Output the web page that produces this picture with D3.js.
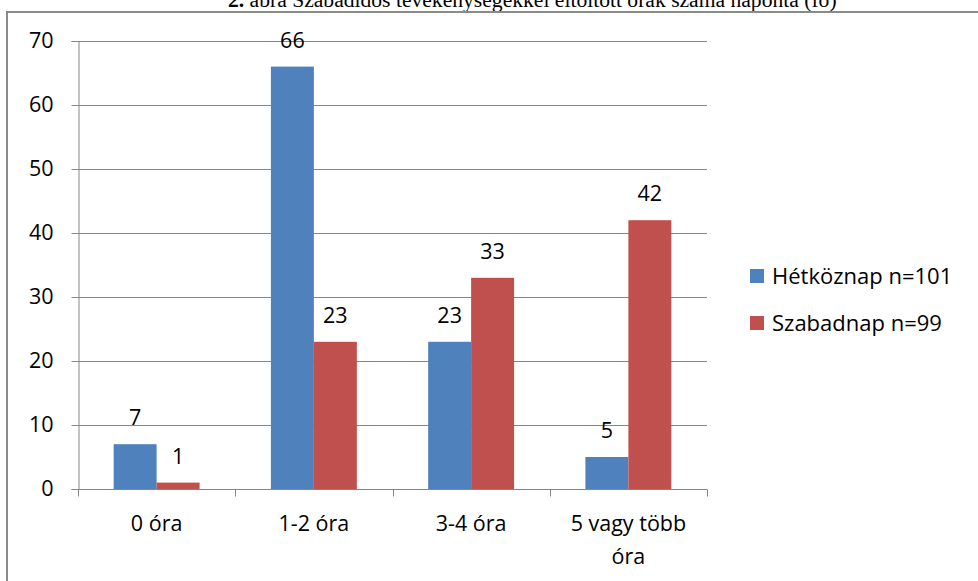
<!DOCTYPE html>
<html>
<head>
<meta charset="utf-8">
<script src="https://cdn.jsdelivr.net/npm/d3@7"></script>
<style>
  html, body { margin: 0; padding: 0; background: #fff; }
  svg { display: block; }
</style>
</head>
<body>
<svg id="chart" width="978" height="581"></svg>
<script>
// Hours per day spent on leisure activities (number of people)
const categories = ["0 óra", "1-2 óra", "3-4 óra", "5 vagy több óra"];
const seriesNames = ["Hétköznap n=101", "Szabadnap n=99"];
const weekdayValues = [7, 66, 23, 5];
const dayOffValues = [1, 23, 33, 42];
const yTicks = [0, 10, 20, 30, 40, 50, 60, 70];
const titleText = ["2.", " ábra Szabadidős tevékenységekkel eltöltött órák száma naponta (fő)"];

const colors = ["#4F81BD", "#C0504D"];
const gridColor = "#868686";
const font = "'Open Sans', Lato, sans-serif";
const fs = 21.5;

const svg = d3.select("#chart");
const W = 978, H = 581;
const plot = { left: 78, right: 707, top: 41, bottom: 489 };

// Caption above the frame, sized to span its column
const title = svg.append("text")
  .attr("x", 228).attr("y", 7)
  .attr("font-family", "'Liberation Serif', 'Times New Roman', serif")
  .attr("font-size", 22)
  .attr("fill", "#000");
title.append("tspan").attr("font-weight", "bold").text(titleText[0]);
title.append("tspan").text(titleText[1]);
const tw = title.node().getComputedTextLength();
title.attr("font-size", 22 * 609 / tw);

// Chart frame (top and left edges visible)
svg.append("rect")
  .attr("x", 7).attr("y", 12)
  .attr("width", W + 20).attr("height", H + 20)
  .attr("fill", "none")
  .attr("stroke", "#8a8a8a")
  .attr("stroke-width", 2);

const x0 = d3.scaleBand().domain(categories).range([plot.left, plot.right]).padding(0);
const x1 = d3.scaleBand().domain(seriesNames).range([0, x0.bandwidth()])
  .paddingInner(0).paddingOuter(0.83);
const y = d3.scaleLinear().domain([0, 70]).range([plot.bottom, plot.top]);

// Horizontal gridlines
svg.append("g").selectAll("line").data(yTicks.filter(t => t > 0)).join("line")
  .attr("x1", plot.left).attr("x2", plot.right)
  .attr("y1", d => Math.round(y(d)) + 0.5).attr("y2", d => Math.round(y(d)) + 0.5)
  .attr("stroke", gridColor).attr("stroke-width", 1);

// Y axis
const yAxis = svg.append("g")
  .attr("transform", `translate(${plot.left + 0.5},0)`)
  .call(d3.axisLeft(y).tickValues(yTicks).tickSize(7).tickPadding(18).tickFormat(d3.format("d")));
yAxis.select(".domain").attr("stroke", gridColor);
yAxis.selectAll(".tick line").attr("stroke", gridColor);
yAxis.selectAll(".tick text")
  .attr("font-family", font).attr("font-size", fs).attr("fill", "#000");

// X axis
const xAxis = svg.append("g")
  .attr("transform", `translate(0,${Math.round(plot.bottom) + 0.5})`);
xAxis.append("line")
  .attr("x1", plot.left).attr("x2", plot.right)
  .attr("stroke", gridColor);
const boundaries = categories.map(c => x0(c)).concat([x0(categories[categories.length - 1]) + x0.bandwidth()]);
xAxis.selectAll("line.tk").data(boundaries).join("line")
  .attr("class", "tk")
  .attr("x1", d => Math.round(d) + 0.5).attr("x2", d => Math.round(d) + 0.5)
  .attr("y1", 0).attr("y2", 7)
  .attr("stroke", gridColor);

// Category labels (wrapped to the band width)
const catLabels = svg.append("g");
categories.forEach(c => {
  const cx = x0(c) + x0.bandwidth() / 2;
  const words = c.split(" ");
  let lines = [c];
  if (c.length > 10) {
    lines = [words.slice(0, -1).join(" "), words[words.length - 1]];
  }
  lines.forEach((ln, i) => {
    catLabels.append("text")
      .attr("x", cx).attr("y", 531 + i * 33)
      .attr("text-anchor", "middle")
      .attr("font-family", font).attr("font-size", fs).attr("fill", "#000")
      .text(ln);
  });
});

// Bars
const rows = categories.map((c, i) => ({ cat: c, vals: [weekdayValues[i], dayOffValues[i]] }));
const groups = svg.append("g").selectAll("g").data(rows).join("g")
  .attr("transform", d => `translate(${x0(d.cat)},0)`);

groups.selectAll("rect").data(d => d.vals.map((v, j) => ({ s: seriesNames[j], v, j }))).join("rect")
  .attr("x", d => x1(d.s))
  .attr("width", x1.bandwidth())
  .attr("y", d => y(d.v))
  .attr("height", d => y(0) - y(d.v))
  .attr("fill", d => colors[d.j]);

// Value labels
groups.selectAll("text").data(d => d.vals.map((v, j) => ({ s: seriesNames[j], v, j }))).join("text")
  .attr("x", d => x1(d.s) + x1.bandwidth() / 2)
  .attr("y", d => y(d.v) - 19)
  .attr("text-anchor", "middle")
  .attr("font-family", font).attr("font-size", fs).attr("fill", "#000")
  .text(d => d.v);

// Legend
const legend = svg.append("g").attr("transform", "translate(750,0)");
seriesNames.forEach((name, i) => {
  const cy = 276 + i * 47;
  legend.append("rect")
    .attr("x", 0).attr("y", cy - 7).attr("width", 14).attr("height", 14)
    .attr("fill", colors[i]);
  legend.append("text")
    .attr("x", 22).attr("y", cy + 8)
    .attr("font-family", font).attr("font-size", 22).attr("fill", "#000")
    .text(name);
});
</script>
</body>
</html>
